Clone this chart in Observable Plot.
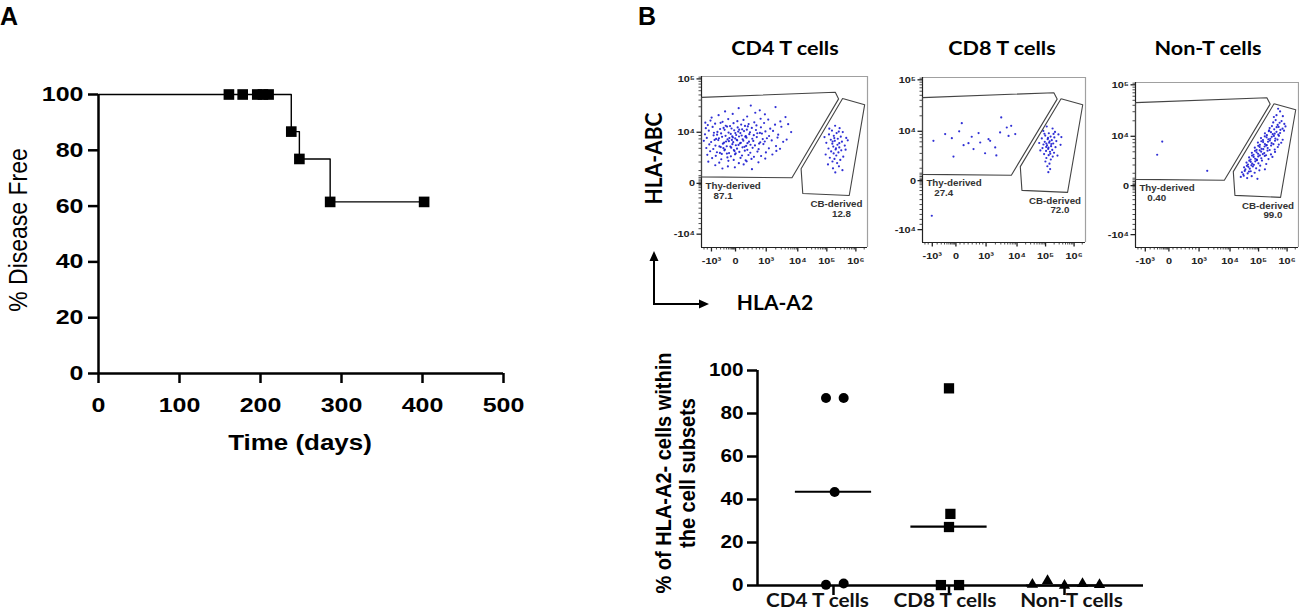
<!DOCTYPE html>
<html><head><meta charset="utf-8">
<script src="https://cdn.jsdelivr.net/npm/d3@7"></script>
<script src="https://cdn.jsdelivr.net/npm/@observablehq/plot@0.6"></script>
<style>
body{margin:0;background:#fff;}
#fig{position:relative;width:1299px;height:616px;overflow:hidden;background:#fff;}
#fig svg{position:absolute;max-width:none;}
</style></head><body><div id="fig"></div>
<script>
// ---------------- DATA ----------------
// Panel A: Kaplan-Meier disease-free curve
const kmTime = [0, 238, 248, 286, 402];
const kmSurv = [100, 86.7, 76.9, 61.5, 61.5];
const kmSymTime = [161, 178, 196, 203, 210, 238, 248, 286, 402];
const kmSymSurv = [100, 100, 100, 100, 100, 86.7, 76.9, 61.5, 61.5];
const timeTicks = [0, 100, 200, 300, 400, 500];
const freeTicks = [0, 20, 40, 60, 80, 100];

// Panel B top: flow cytometry (display units 0-100 of each plot box)
const flowTitles = ["CD4 T cells", "CD8 T cells", "Non-T cells"];
const thyPct = ["87.1", "27.4", "0.40"];
const cbPct = ["12.8", "72.0", "99.0"];
const flowXTicks = [6, 20.5, 39, 58, 75.5, 93];
const flowXLabels = ["-10³", "0", "10³", "10⁴", "10⁵", "10⁶"];
const flowYTicks = [7.8, 37.5, 67.4, 98.6];
const flowYLabels = ["-10⁴", "0", "10⁴", "10⁵"];
const thyGate = [[0,87.8],[80.6,90.8],[82.6,86.9],[54.5,40.8],[0,41.3],[0,87.8]];
const cbGate = [[85,87.1],[98.3,83.5],[89,30.4],[61,31.6],[60,46],[85,87.1]];

const cd4Thy = [[22.4,81.5],[35.1,80.2],[44.6,82.1],[14.2,79.6],[29.7,83.0],
[10.3,77.4],[18.8,78.1],[27.5,76.6],[38.2,77.9],[50.6,76.3],[6.1,76.0],[32.4,78.8],
[5.4,74.2],[12.7,73.5],[16.1,75.1],[21.6,73.9],[25.3,74.6],[31.8,73.2],[40.2,74.8],[47.5,73.7],[2.3,73.0],[35.6,75.3],
[3.8,71.6],[8.2,72.4],[14.6,71.2],[19.3,72.7],[23.9,71.9],[28.4,72.2],[33.1,71.4],[37.7,72.8],[44.3,71.8],[52.2,72.1],[11.5,72.9],[26.2,71.1],
[2.6,69.8],[6.7,70.5],[11.2,69.3],[15.4,70.7],[18.1,69.6],[21.8,70.2],[24.5,69.1],[27.9,70.8],[30.3,69.9],[35.8,70.3],[41.4,69.5],[48.1,70.6],[13.3,69.9],[22.7,68.9],[17.2,71.0],
[4.4,68.3],[9.6,67.6],[13.9,68.8],[16.3,67.2],[19.7,68.5],[22.1,67.8],[25.6,68.1],[29.2,67.4],[32.8,68.7],[38.5,67.9],[43.1,68.2],[54.0,67.5],[7.5,67.1],[20.4,66.9],[27.3,68.9],[35.2,67.0],
[2.1,66.2],[7.3,65.6],[11.8,66.7],[14.5,65.3],[17.6,66.4],[20.9,65.8],[23.4,66.9],[26.7,65.1],[28.8,66.3],[31.5,65.7],[36.4,66.6],[40.7,65.2],[46.2,66.0],[18.5,65.0],[24.2,65.5],[9.4,66.0],[33.6,66.8],
[3.2,64.1],[8.8,63.5],[12.4,64.7],[15.7,63.2],[18.9,64.4],[20.3,63.8],[22.6,64.9],[24.8,63.3],[27.1,64.2],[30.6,63.6],[33.3,64.6],[39.4,63.9],[45.8,64.3],[51.3,63.1],[16.8,64.0],[21.2,63.0],[26.4,64.8],[10.5,63.9],[36.9,63.4],
[1.4,62.4],[5.8,61.7],[10.1,62.8],[13.6,61.3],[16.5,62.2],[19.1,61.6],[21.5,62.7],[23.7,61.2],[25.2,62.5],[28.6,61.9],[31.2,62.3],[35.4,61.5],[42.3,62.6],[49.2,61.8],[18.3,62.9],[14.8,62.0],[27.7,61.0],[7.9,62.9],[38.1,62.0],
[4.7,60.3],[8.4,59.6],[12.9,60.7],[15.2,59.2],[18.6,60.4],[20.7,59.8],[23.2,60.9],[26.9,59.4],[29.5,60.1],[32.2,59.7],[37.3,60.5],[44.9,59.3],[17.4,59.0],[22.3,60.0],[10.8,59.1],[34.7,60.8],
[2.9,58.2],[7.1,57.6],[11.6,58.7],[14.1,57.3],[17.9,58.4],[21.4,57.8],[24.7,58.6],[27.6,57.1],[30.8,58.3],[34.4,57.5],[40.6,58.0],[47.3,57.7],[19.5,57.0],[25.9,58.9],[13.2,58.1],
[5.2,56.3],[9.3,55.7],[13.8,56.8],[16.6,55.2],[19.9,56.4],[22.8,55.9],[26.1,56.6],[29.4,55.4],[33.7,56.1],[38.8,55.6],[45.1,56.5],[20.6,55.0],[11.1,55.3],
[3.5,54.2],[8.6,53.6],[12.2,54.7],[17.7,53.3],[20.2,54.5],[24.4,53.8],[28.3,54.1],[35.9,53.5],[42.7,54.4],[15.3,54.9],[31.6,53.0],
[6.4,52.3],[11.9,51.6],[15.6,52.7],[19.4,51.2],[23.5,52.4],[30.1,51.8],[38.4,52.0],[26.6,51.0],
[4.1,50.2],[10.7,49.6],[16.2,50.7],[22.5,49.3],[27.2,50.4],[34.3,49.8],
[8.3,48.1],[15.9,47.4],[25.4,48.6],[12.6,46.2],[30.4,45.8],[20.1,46.9]];
const cd4Cb = [[80.5,71.2],[83.2,69.8],[78.6,68.4],[85.1,67.5],[81.4,66.9],[76.8,66.1],[79.7,65.3],[83.9,64.8],[87.2,64.1],[82.1,63.6],[77.9,63.0],[80.3,62.4],[84.6,61.9],[75.2,61.2],[78.8,60.7],[81.9,60.1],[86.3,59.6],[79.4,59.0],[83.0,58.5],[76.5,57.9],[80.8,57.3],[84.2,56.8],[78.1,56.2],[82.5,55.6],[79.6,55.0],[74.8,54.4],[81.2,53.8],[85.4,53.1],[77.3,52.5],[80.1,51.8],[83.6,51.2],[78.9,50.3],[81.7,49.4],[76.2,48.6],[82.8,47.5],[79.2,46.3],[84.9,45.2],[80.6,43.9],[88.1,62.7],[74.1,64.6],[86.8,57.2],[77.0,69.5],[82.7,67.8],[80.0,64.0],[81.0,58.0],[79.0,62.0],[83.0,61.0]];
const cd8Thy = [[6.7,61.6],[13.9,65.7],[18.0,63.2],[24.1,72.3],[25.2,59.0],[19.0,52.1],[28.2,60.2],[31.3,56.6],[34.4,66.3],[35.4,60.6],[38.4,54.1],[40.5,62.6],[41.5,61.6],[44.6,57.6],[48.3,75.8],[47.6,66.7],[51.7,69.7],[52.8,64.6],[54.4,70.7],[56.9,65.7],[5.7,16.2],[22.5,67.4],[30.2,64.1],[45.3,52.8]];
const cd8Cb = [[76.2,70.3],[79.8,69.1],[74.1,67.6],[81.3,67.0],[77.5,66.2],[83.4,65.5],[75.3,64.8],[78.6,64.2],[80.9,63.7],[73.2,63.1],[76.8,62.6],[79.3,62.0],[82.1,61.5],[75.0,61.0],[77.7,60.5],[80.2,60.0],[74.2,59.4],[76.4,58.9],[78.9,58.4],[81.6,57.8],[73.6,57.2],[77.1,56.7],[79.6,56.1],[75.8,55.5],[78.2,55.0],[80.7,54.4],[74.6,53.6],[77.4,52.9],[79.9,52.1],[76.0,51.2],[78.7,50.3],[75.4,49.1],[77.9,47.8],[76.6,46.2],[78.3,44.5],[77.2,42.6],[84.7,59.2],[72.3,55.8],[82.8,52.7],[71.6,60.3],[85.2,63.9],[77.0,63.4],[78.0,61.3],[76.0,60.0],[79.0,59.7],[77.3,57.5],[75.9,57.9],[78.4,53.8],[80.4,65.8],[74.8,65.9]];
const nonTThy = [[16.4,64.2],[13.3,56.2],[44.0,46.5]];
const nonTCb = [[84.5,75.8],[87.2,74.3],[89.6,76.6],[86.0,77.2],[91.3,74.9],[88.4,75.6],[86.5,80.2],[88.7,82.5],[84.9,79.1],[90.4,79.6],[87.5,84.1],
[82.3,72.4],[85.1,71.6],[87.8,73.1],[90.2,72.0],[83.7,73.6],[86.6,72.9],[88.9,71.3],[92.0,73.4],
[79.4,69.2],[81.8,70.5],[84.2,68.7],[86.5,70.1],[88.7,69.4],[91.1,70.8],[80.6,68.1],[83.1,69.9],[85.4,69.0],[87.6,68.4],[82.0,71.0],
[77.0,66.3],[79.3,67.4],[81.5,65.6],[83.6,67.1],[85.8,66.0],[88.0,67.7],[90.3,65.3],[78.2,65.1],[80.4,66.8],[82.7,65.9],[84.9,67.6],[87.1,65.4],
[75.1,63.6],[77.2,64.4],[79.4,62.7],[81.3,64.1],[83.5,63.2],[85.6,64.7],[87.9,62.4],[76.3,62.2],[78.3,63.9],[80.5,62.0],[82.4,64.8],[84.6,62.6],[89.4,63.5],
[73.2,60.5],[75.3,61.6],[77.3,59.8],[79.2,61.2],[81.1,60.3],[83.2,61.8],[85.4,59.4],[87.3,60.9],[74.3,59.2],[76.2,60.9],[78.4,59.6],[80.2,61.9],[82.3,59.1],
[71.4,57.4],[73.3,58.6],[75.2,56.8],[77.1,58.1],[79.0,57.2],[81.0,58.7],[83.1,56.4],[85.6,57.9],[72.4,56.2],[74.3,57.7],[76.2,58.9],[78.1,56.6],[80.1,55.9],
[69.7,54.6],[71.5,55.7],[73.4,53.8],[75.3,55.2],[77.2,54.1],[79.3,55.5],[81.6,53.6],[84.0,54.9],[70.6,53.3],[72.5,54.9],[74.4,53.2],[76.3,55.8],
[68.1,51.5],[69.8,52.6],[71.6,50.8],[73.5,52.2],[75.4,51.0],[77.6,52.7],[80.2,50.6],[69.0,50.3],[70.7,51.9],[72.6,50.1],[74.5,52.9],
[66.6,48.6],[68.3,49.5],[70.1,47.8],[72.0,49.1],[74.0,48.0],[76.5,49.6],[79.4,47.4],[67.4,47.3],[69.2,48.9],[71.1,49.8],
[65.3,45.6],[67.0,46.4],[68.8,44.9],[70.7,46.2],[73.1,45.3],[76.0,46.8],[66.1,44.4],[69.6,46.0],
[64.6,42.8],[66.4,43.5],[68.5,42.1],[71.3,43.2],[74.8,41.6]];

// Panel B bottom: % HLA-A2- cells within subsets
const subsetCats = ["CD4 T cells", "CD8 T cells", "Non-T cells"];
const cd4Vals = [87.2, 87.2, 43.5, 0.3, 0.9];
const cd4Jit = [-0.065, 0.088, 0.01, -0.065, 0.088];
const cd8Vals = [91.7, 33.3, 27.2, 0.2, 0.2];
const cd8Jit = [0, 0.012, 0, -0.07, 0.087];
const nonTVals = [0.5, 2.2, 0, 0.8, 0.3];
const nonTJit = [-0.278, -0.147, 0, 0.156, 0.303];
const subsetMedians = [43.6, 27.4, 0];
const pctTicks = [0, 20, 40, 60, 80, 100];

// ---------------- HELPERS ----------------
const fig = document.getElementById("fig");
function place(svg, left, top) { svg.style.left = left + "px"; svg.style.top = top + "px"; fig.appendChild(svg); }
function stretch(svg, sx, sel) {
  svg.querySelectorAll(sel || "text").forEach(t => {
    let tr = t.getAttribute("transform") || "";
    const x = t.getAttribute("x");
    if (x !== null && !isNaN(+x)) { tr += ` translate(${x},0)`; t.removeAttribute("x"); }
    t.setAttribute("transform", tr + ` scale(${sx},1)`);
  });
}
const SANS = "Liberation Sans, Arial, sans-serif";
const LATO = "Lato, Open Sans, sans-serif";

// ---------------- PANEL A ----------------
const kmRows = kmTime.map((t, i) => ({t, s: kmSurv[i]}));
const kmSyms = kmSymTime.map((t, i) => ({t, s: kmSymSurv[i]}));
const A = Plot.plot({
  width: 520, height: 460, marginLeft: 98, marginRight: 17, marginTop: 94, marginBottom: 87,
  x: {domain: [0, 500]}, y: {domain: [0, 100]},
  style: {fontFamily: SANS, fontWeight: "bold", background: "transparent", color: "#000", overflow: "visible"},
  marks: [
    Plot.axisX({ticks: timeTicks, tickSize: 10, tickPadding: 14, fontSize: 20.5, strokeWidth: 2.5, label: null, tickFormat: d => String(d)}),
    Plot.axisY({ticks: freeTicks, tickSize: 10, tickPadding: 5, fontSize: 20.5, strokeWidth: 2.5, label: null, tickFormat: d => String(d)}),
    Plot.ruleX([0], {strokeWidth: 2.5}),
    Plot.ruleY([0], {strokeWidth: 2.5}),
    Plot.line(kmRows, {x: "t", y: "s", curve: "step-after", stroke: "#000", strokeWidth: 1.4}),
    Plot.dot(kmSyms, {x: "t", y: "s", symbol: "square", r: 6, fill: "#000"})
  ]
});
stretch(A, 1.22);
place(A, 0, 0);

// ---------------- PANEL B FLOW PLOTS ----------------
const flowMinorX = [1.5, 3.5, 9, 11.5, 13.5, 15, 16.2, 17.2, 18, 18.7, 19.3, 19.8, 23, 25.5, 28, 30.5, 33, 35, 37, 98];
[[39, 19], [58, 17.5], [75.5, 17.5]].forEach(([b, w]) => { for (let k = 2; k <= 9; k++) flowMinorX.push(b + w * Math.log10(k)); });
const flowMinorY = [11, 14, 17, 20, 23, 26, 29, 31.5, 33.5, 35, 36, 36.8, 38.2, 39, 40, 41, 42, 45, 50, 54, 58, 61, 63.5, 65.5, 99.6];
for (let k = 2; k <= 9; k++) flowMinorY.push(67.4 + 31.2 * Math.log10(k));

const flowBoxes = [
  {left: 701, top: 76, w: 166, h: 171},
  {left: 922, top: 77, w: 163, h: 165},
  {left: 1135, top: 82, w: 163, h: 165}
];
const flowThy = [cd4Thy, cd8Thy, nonTThy];
const flowCb = [cd4Cb, cd8Cb, nonTCb];
const pt = {x: d => d[0], y: d => d[1]};

flowBoxes.forEach((b, k) => {
  const ml = 40, mt = 10, mr = 6, mb = 24;
  const txt = (x, y, text, anchor) => Plot.text([0], {x: () => x, y: () => y, text: () => text, textAnchor: anchor, fontSize: 8.5, fill: "#333", fontWeight: "bold"});
  const svg = Plot.plot({
    width: b.w + ml + mr, height: b.h + mt + mb, marginLeft: ml, marginTop: mt, marginRight: mr, marginBottom: mb,
    x: {domain: [0, 100]}, y: {domain: [0, 100]},
    style: {fontFamily: SANS, fontWeight: "bold", background: "transparent", color: "#222", overflow: "visible"},
    marks: [
      Plot.ruleX([100], {stroke: "#a0a0a0", strokeWidth: 1.2}),
      Plot.ruleY([100], {stroke: "#a0a0a0", strokeWidth: 1.2}),
      Plot.axisX({ticks: flowMinorX, tickSize: 2.5, tickFormat: () => "", strokeWidth: 0.8, label: null}),
      Plot.axisY({ticks: flowMinorY, tickSize: 2.5, tickFormat: () => "", strokeWidth: 0.8, label: null}),
      Plot.axisX({ticks: flowXTicks, tickSize: 4.5, tickPadding: 5, fontSize: 9.5, strokeWidth: 1.3, label: null,
        tickFormat: d => flowXLabels[flowXTicks.indexOf(d)]}),
      Plot.axisY({ticks: flowYTicks, tickSize: 4.5, tickPadding: 2, fontSize: 9.5, strokeWidth: 1.3, label: null,
        tickFormat: d => flowYLabels[flowYTicks.indexOf(d)]}),
      Plot.ruleX([0], {stroke: "#222", strokeWidth: 1.2}),
      Plot.ruleY([0], {stroke: "#222", strokeWidth: 1.2}),
      Plot.dot(flowThy[k], {...pt, r: 1.1, fill: "#1a1ad0", fillOpacity: 0.9}),
      Plot.dot(flowCb[k], {...pt, r: 1.1, fill: "#1a1ad0", fillOpacity: 0.9}),
      Plot.line(thyGate, {...pt, stroke: "#444", strokeWidth: 1.1}),
      Plot.line(cbGate, {...pt, stroke: "#444", strokeWidth: 1.1}),
      txt(2.4, 35.7, "Thy-derived", "start"),
      txt(13, 29.8, thyPct[k], "middle"),
      txt(81.3, 25, "CB-derived", "middle"),
      txt(84.3, 19.7, cbPct[k], "middle")
    ]
  });
  stretch(svg, 1.15);
  place(svg, b.left - ml, b.top - mt);
});

// ---------------- PANEL B BOTTOM DOT PLOT ----------------
const toRows = (vals, jit, g) => vals.map((v, i) => ({x: g + jit[i], v}));
const medRows = subsetMedians.map((m, g) => ({g, m}));
const catLabel = (g, dx) => Plot.text([subsetCats[g]], {x: () => g, y: () => 0, dy: 16, dx, text: d => d, fontFamily: LATO, fontSize: 18.5, fontWeight: "bold", fill: "#111"});
const BOT = Plot.plot({
  width: 520, height: 276, marginLeft: 117, marginRight: 17, marginTop: 30, marginBottom: 31,
  x: {domain: [-0.658, 2.684]}, y: {domain: [0, 100]},
  style: {fontFamily: SANS, fontWeight: "bold", background: "transparent", color: "#000", overflow: "visible"},
  marks: [
    Plot.axisY({ticks: pctTicks, tickSize: 10, tickPadding: 4, fontSize: 18.5, strokeWidth: 2.5, label: null, tickFormat: d => String(d)}),
    Plot.axisX({ticks: [0, 1, 2], tickSize: 10, tickFormat: () => "", strokeWidth: 2.5, label: null}),
    Plot.ruleX([-0.658], {strokeWidth: 2.5}),
    Plot.ruleY([0], {strokeWidth: 2.5}),
    Plot.ruleY(medRows, {y: "m", x1: d => d.g - 0.33, x2: d => d.g + 0.33, strokeWidth: 2.2}),
    Plot.dot(toRows(cd4Vals, cd4Jit, 0), {x: "x", y: "v", symbol: "circle", r: 5, fill: "#000"}),
    Plot.dot(toRows(cd8Vals, cd8Jit, 1), {x: "x", y: "v", symbol: "square", r: 5.8, fill: "#000"}),
    Plot.dot(toRows(nonTVals, nonTJit, 2), {x: "x", y: "v", symbol: "triangle", r: 4.2, fill: "#000"}),
    catLabel(0, -16), catLabel(1, -4), catLabel(2, 7)
  ]
});
stretch(BOT, 1.12);
place(BOT, 640, 340);

// ---------------- OVERLAY TEXT & ARROWS ----------------
const ov = d3.create("svg").attr("width", 1299).attr("height", 616).style("left", "0px").style("top", "0px");
const T = (s, x, y, o) => ov.append("text").attr("transform", `translate(${x},${y})` + (o.t || ""))
  .attr("font-family", o.f || SANS).attr("font-size", o.s).attr("font-weight", o.w || "bold")
  .attr("text-anchor", o.a || "start").attr("fill", "#000").text(s);
T("A", 0, 25, {s: 25});
T("B", 638, 25, {s: 25});
flowTitles.forEach((s, i) => T(s, [785, 1002, 1208][i], 55, {s: 18, f: LATO, a: "middle", t: " scale(1.2,1)"}));
T("HLA-ABC", 662, 158.5, {s: 21, f: LATO, a: "middle", t: " scale(1.1,1) rotate(-90)"});
T("HLA-A2", 775, 310, {s: 21, f: LATO, a: "middle"});
T("% Disease Free", 27, 230, {s: 23, w: "normal", a: "middle", t: " scale(1.15,1) rotate(-90)"});
T("Time (days)", 300, 450, {s: 22, a: "middle", t: " scale(1.18,1)"});
T("% of HLA-A2- cells within", 671, 473, {s: 20, a: "middle", t: " scale(1.12,1) rotate(-90)"});
T("the cell subsets", 695, 473, {s: 20, a: "middle", t: " scale(1.12,1) rotate(-90)"});
ov.append("path").attr("d", "M654,304 V258 M653,304 H702").attr("stroke", "#000").attr("stroke-width", 2).attr("fill", "none");
ov.append("path").attr("d", "M654,251 L649.5,261 L658.5,261 Z M709,304 L699,299.5 L699,308.5 Z").attr("fill", "#000");
fig.insertBefore(ov.node(), fig.firstChild);
</script></body></html>
